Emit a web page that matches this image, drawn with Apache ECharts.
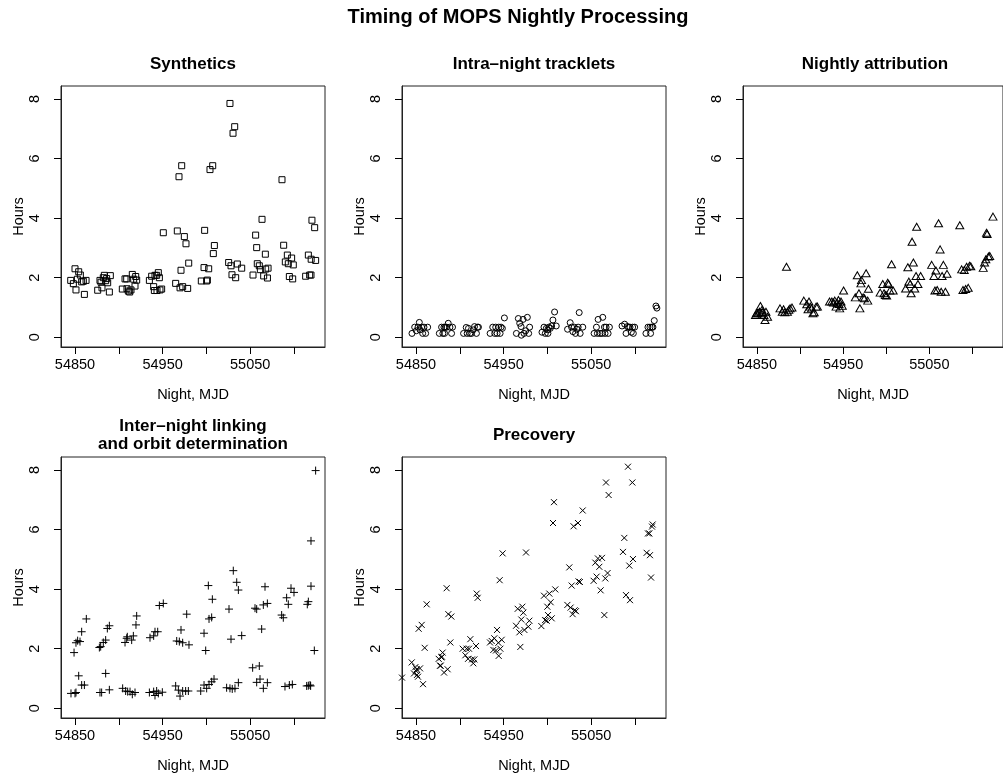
<!DOCTYPE html>
<html><head><meta charset="utf-8">
<script src="https://cdn.jsdelivr.net/npm/echarts@6/dist/echarts.min.js"></script>
<style>html,body{margin:0;padding:0;background:#fff}#c{width:1003px;height:774px}</style>
</head><body><div id="c"></div>
<script>
// ---------- data ----------
const mainTitle = "Timing of MOPS Nightly Processing";
const panelTitles = ["Synthetics", "Intra–night tracklets", "Nightly attribution", "Inter–night linking\nand orbit determination", "Precovery"];
const xAxisTitle = "Night, MJD";
const yAxisTitle = "Hours";
const xTickValues = [54850, 54900, 54950, 55000, 55050, 55100];
const xTickLabels = [54850, 54950, 55050];
const yTickValues = [0, 2, 4, 6, 8];

const synthX = [54845.1,54848.1,54850.0,54851.1,54852.7,54854.2,54856.1,54857.6,54859.5,54860.7,54862.6,
 54875.9,54878.5,54879.7,54880.8,54882.3,54883.5,54885.0,54886.1,54887.3,54889.2,54890.3,
 54904.0,54907.1,54909.0,54909.3,54910.9,54912.4,54913.9,54915.4,54917.0,54918.5,54919.3,54920.4,
 54934.9,54937.5,54939.8,54940.6,54941.3,54943.2,54943.6,54945.1,54946.3,54947.0,54948.9,54950.8,
 54964.9,54966.8,54968.7,54969.9,54971.0,54971.8,54972.9,54974.8,54976.7,54978.6,54979.8,
 54994.2,54997.3,54998.0,55000.3,55001.1,55002.6,55004.1,55007.2,55007.9,55009.1,
 55025.4,55026.9,55028.1,55029.2,55030.4,55032.3,55033.4,55035.3,55040.3,
 55053.2,55056.2,55057.4,55058.1,55060.4,55061.6,55063.5,55065.4,55067.3,55067.7,55069.7,55070.4,
 55086.3,55088.2,55090.1,55092.4,55093.5,55094.7,55097.3,55098.5,55099.2,
 55113.3,55116.4,55117.9,55119.4,55119.6,55120.5,55123.6,55124.7];
const synthY = [1.91,1.80,2.30,1.59,1.95,2.20,2.09,1.86,1.88,1.44,1.91,
 1.58,1.91,1.85,1.66,2.00,2.08,1.90,1.97,1.83,1.52,2.07,
 1.62,1.96,1.96,1.63,1.55,1.52,1.59,2.11,1.95,1.72,2.04,1.92,
 1.91,2.05,1.70,1.57,2.08,2.08,1.57,2.17,2.00,1.59,1.62,3.51,
 1.81,3.57,5.39,1.66,2.25,5.76,1.70,3.38,3.14,1.64,2.49,
 1.89,2.34,3.59,1.89,1.92,2.30,5.63,5.76,2.81,3.08,
 2.51,7.85,2.40,2.10,6.85,7.07,2.00,2.46,2.32,
 2.09,3.43,3.01,2.47,2.40,2.27,3.96,2.06,2.79,2.29,1.99,2.32,
 5.29,3.09,2.53,2.76,2.47,2.04,2.66,1.96,2.43,
 2.05,2.76,2.09,2.09,2.62,3.93,3.68,2.58];

const trackX = [54845.4,54848.5,54850.4,54852.3,54853.8,54854.6,54856.4,54857.6,54859.1,54861.0,54863.3,
 54876.6,54879.2,54880.7,54881.9,54882.6,54883.4,54884.9,54886.8,54888.7,54890.6,54891.7,
 54904.3,54907.3,54908.4,54909.9,54911.5,54913.4,54915.3,54916.8,54919.0,54920.2,54921.3,
 54934.6,54937.6,54939.9,54941.0,54942.6,54944.5,54946.0,54947.1,54948.6,54950.9,
 54964.6,54966.8,54968.4,54969.9,54970.3,54972.2,54973.3,54975.2,54977.1,54978.6,54979.7,
 54993.8,54996.1,54997.6,54998.8,55000.4,55000.6,55001.7,55003.3,55004.8,55006.3,55008.2,55010.1,
 55023.0,55026.0,55027.6,55029.1,55030.6,55032.1,55033.6,55035.1,55036.3,55037.4,55040.4,
 55053.3,55056.0,55057.1,55057.9,55060.1,55062.4,55063.2,55065.1,55065.8,55067.0,55069.3,55070.8,
 55085.2,55088.2,55089.8,55091.3,55092.8,55094.3,55095.8,55097.3,55098.1,55099.6,
 55112.5,55114.8,55117.1,55117.8,55119.3,55120.5,55122.0,55123.9,55125.0];
const trackY = [0.13,0.34,0.22,0.34,0.50,0.25,0.34,0.13,0.34,0.13,0.34,
 0.13,0.34,0.13,0.34,0.13,0.34,0.34,0.47,0.34,0.13,0.34,
 0.13,0.33,0.13,0.30,0.13,0.13,0.25,0.36,0.13,0.34,0.34,
 0.13,0.34,0.13,0.34,0.13,0.34,0.13,0.34,0.30,0.65,
 0.13,0.63,0.47,0.36,0.07,0.60,0.13,0.22,0.67,0.13,0.34,
 0.17,0.34,0.13,0.30,0.25,0.13,0.34,0.30,0.38,0.58,0.85,0.38,
 0.27,0.49,0.34,0.19,0.34,0.13,0.27,0.34,0.83,0.13,0.34,
 0.13,0.34,0.13,0.60,0.13,0.13,0.67,0.34,0.13,0.34,0.13,0.34,
 0.38,0.44,0.13,0.36,0.34,0.34,0.17,0.34,0.13,0.34,
 0.13,0.34,0.34,0.13,0.34,0.34,0.56,1.05,0.98];

const attribX = [54848.5,54849.6,54851.1,54853.0,54854.2,54855.3,54856.1,54856.8,54858.3,54859.5,54860.6,54862.5,
 54876.9,54879.5,54881.0,54882.5,54884.4,54885.5,54887.1,54888.6,54890.8,
 54904.5,54907.9,54909.4,54910.5,54912.0,54913.5,54915.1,54916.6,54918.8,54920.3,
 54934.3,54937.0,54938.9,54940.4,54941.9,54943.0,54944.6,54945.3,54946.1,54947.6,54949.1,54950.6,
 54964.2,54966.5,54968.4,54969.5,54970.7,54971.4,54973.3,54974.8,54976.7,54978.6,54979.4,
 54993.0,54996.0,54997.5,54999.0,55000.5,55001.7,55002.8,55004.3,55006.2,55008.1,
 55022.5,55025.1,55026.3,55027.8,55028.9,55030.0,55031.5,55033.1,55034.6,55035.3,55036.8,55039.9,
 55052.7,55055.3,55056.5,55057.6,55059.1,55060.7,55062.5,55063.7,55064.8,55066.3,55068.6,55070.5,
 55085.3,55087.5,55089.0,55090.5,55092.1,55093.2,55095.1,55096.6,55098.1,
 55112.5,55114.0,55115.5,55116.3,55117.0,55118.5,55120.0,55123.8];
const attribY = [0.75,0.81,0.81,0.86,1.05,0.81,0.92,0.84,0.75,0.58,0.86,0.69,
 0.97,0.86,0.94,0.84,2.37,0.86,0.92,0.97,1.00,
 1.23,1.11,0.94,1.20,1.03,0.97,0.81,0.84,1.03,1.03,
 1.20,1.20,1.17,1.23,1.03,1.16,1.25,1.12,0.97,1.20,1.06,1.57,
 1.34,2.08,1.48,0.97,1.81,1.92,1.34,1.31,2.15,1.23,1.63,
 1.50,1.79,1.48,1.42,1.40,1.83,1.79,1.57,2.45,1.57,
 1.64,2.35,1.87,1.79,1.48,3.21,2.51,1.64,2.06,3.71,1.79,2.06,
 2.43,2.06,1.57,2.24,1.59,3.83,2.95,1.53,2.06,2.43,1.53,2.13,
 3.76,2.28,1.59,2.26,1.62,2.37,1.66,2.40,2.38,
 2.33,2.51,2.62,3.51,3.47,2.71,2.73,4.05];

const linkX = [54848.9,54851.1,54853.0,54855.7,54857.6,54862.9,54854.2,54857.6,54860.7,54845.4,54850.0,54851.1,
 54877.8,54879.3,54882.3,54885.0,54886.9,54889.2,54885.0,54889.2,54878.5,54880.4,
 54907.1,54909.0,54909.7,54914.7,54916.6,54919.6,54920.4,54904.4,54907.8,54910.1,54912.8,54915.4,54918.5,
 54935.6,54939.8,54941.3,54944.4,54946.3,54950.8,54934.9,54939.8,54941.3,54943.2,54945.1,54949.7,
 54966.1,54969.1,54971.0,54972.9,54977.5,54980.1,54964.9,54968.0,54969.9,54972.9,54976.3,54979.4,
 54997.3,54999.2,55002.2,55003.0,55006.0,55006.8,54993.5,54997.3,55000.3,55003.0,55006.0,55008.7,
 55025.8,55028.1,55030.7,55034.6,55036.5,55040.3,55023.1,55026.9,55029.5,55032.6,55036.5,
 55055.5,55057.4,55063.1,55065.0,55066.9,55069.6,55052.8,55060.4,55057.4,55061.2,55065.0,55069.6,
 55085.9,55087.8,55091.6,55093.5,55096.6,55100.0,55089.7,55094.7,55098.1,
 55115.2,55116.4,55119.4,55119.4,55124.7,55123.2,55114.5,55116.4,55118.3,55119.0];
const linkY = [1.87,2.20,2.27,2.24,2.57,3.00,1.09,0.78,0.78,0.50,0.50,0.53,
 2.04,2.07,2.21,2.29,2.68,2.77,1.17,0.62,0.53,0.53,
 2.21,2.35,2.40,2.29,2.43,2.80,3.10,0.67,0.58,0.56,0.56,0.47,0.53,
 2.37,2.43,2.57,2.57,3.45,3.52,0.53,0.56,0.43,0.58,0.50,0.54,
 2.26,2.24,2.63,2.20,3.16,2.13,0.75,0.61,0.41,0.58,0.58,0.58,
 2.52,1.94,4.12,3.00,3.05,3.66,0.58,0.78,0.67,0.80,0.89,0.98,
 3.33,2.32,4.62,4.23,3.97,2.44,0.69,0.67,0.65,0.67,0.86,
 3.36,3.33,2.66,3.47,4.08,3.52,1.36,1.42,0.87,0.98,0.67,0.86,
 3.13,3.04,3.71,3.49,4.03,3.89,0.73,0.78,0.80,
 3.49,3.58,4.10,5.62,7.98,1.94,0.75,0.76,0.78,0.75];

const precovX = [54834.0,
 54845.1,54847.7,54849.2,54850.8,54852.3,54853.0,54851.1,54854.6,54856.5,54858.0,54859.9,54862.2,54850.0,
 54875.9,54877.4,54878.9,54880.4,54882.0,54885.0,54886.1,54886.9,54889.2,54890.3,54878.2,54879.7,
 54903.3,54906.3,54907.8,54909.4,54910.5,54912.0,54913.9,54915.4,54916.6,54918.5,54919.3,54920.4,
 54934.5,54936.4,54938.3,54939.4,54941.3,54942.5,54944.0,54944.4,54945.5,54946.3,54947.8,54948.9,
 54964.2,54966.1,54968.0,54969.1,54970.2,54971.4,54972.5,54973.7,54975.6,54978.2,54979.4,
 54993.1,54996.1,54997.3,54999.2,54999.9,55000.7,55002.2,55003.7,55004.9,55006.4,55007.5,55009.0,
 55022.8,55025.0,55026.5,55027.7,55028.8,55029.9,55031.1,55032.6,55034.9,55035.6,55037.1,55040.3,
 55052.8,55054.7,55056.2,55057.7,55059.3,55060.8,55062.3,55065.0,55066.9,55066.1,55068.7,55069.9,
 55086.3,55087.8,55089.7,55092.0,55093.5,55094.3,55097.0,55097.7,
 55113.3,55114.8,55116.4,55117.1,55118.3,55119.4,55120.2];
const precovY = [1.03,
 1.54,1.17,1.38,1.31,1.06,2.67,1.12,1.34,2.80,0.81,2.03,3.49,1.26,
 1.66,1.43,1.71,1.87,1.20,4.03,1.31,3.16,2.21,3.08,1.43,1.73,
 2.00,1.78,2.00,1.66,2.00,2.32,1.64,1.51,1.64,2.09,3.85,3.71,
 2.21,2.26,1.96,2.35,1.94,2.63,2.20,1.76,4.30,2.00,2.30,5.20,
 2.77,3.34,2.55,2.06,2.98,3.41,3.21,2.63,5.23,2.74,2.94,
 2.76,3.78,2.96,2.94,3.41,3.13,3.85,3.56,3.02,6.22,6.92,3.99,
 3.47,4.73,3.38,4.12,3.16,6.11,3.29,3.26,6.22,4.26,4.24,6.64,
 4.28,4.89,4.42,5.03,4.75,3.96,5.05,3.13,7.58,4.36,4.54,7.16,
 5.25,5.72,3.80,8.11,4.79,3.63,7.58,5.01,
 5.22,5.87,5.87,5.14,4.39,6.10,6.17];

// ---------- chart ----------
const FONT = '"Liberation Sans", Arial, Helvetica, sans-serif';
const panelXs = [synthX, trackX, attribX, linkX, precovX];
const panelYs = [synthY, trackY, attribY, linkY, precovY];
const symbols = [
  {symbol: 'rect', size: 6},
  {symbol: 'circle', size: 6},
  {symbol: 'triangle', size: [8, 7]},
  {symbol: 'path://M0,4L8,4M4,0L4,8', size: 8},
  {symbol: 'path://M0,0L6,6M0,6L6,0', size: 6}
];
const W = 264, H = 261;
const lefts = [61, 402, 743, 61, 402];
const tops = [86, 86, 86, 457, 457];
const X_MIN = 54834.0, X_MAX = 55135.4, Y_MIN = -0.326, Y_MAX = 8.436;

const grids = [], xAxes = [], yAxes = [], series = [], graphics = [];
graphics.push({type: 'text', x: 518, y: 17, style: {text: mainTitle, font: 'bold 20px ' + FONT, fill: '#000', textAlign: 'center', textVerticalAlign: 'middle'}});
for (let i = 0; i < 5; i++) {
  grids.push({left: lefts[i], top: tops[i], width: W, height: H, show: true, borderColor: '#222', borderWidth: 1, backgroundColor: 'transparent', containLabel: false});
  xAxes.push({
    type: 'value', gridIndex: i, min: X_MIN, max: X_MAX,
    axisLine: {show: true, onZero: false, lineStyle: {color: '#222', width: 1}},
    splitLine: {show: false},
    axisTick: {show: true, length: 7, lineStyle: {color: '#000', width: 1}, customValues: xTickValues},
    axisLabel: {show: true, customValues: xTickLabels, formatter: v => String(v), margin: 10, color: '#000', fontSize: 14.5, fontFamily: FONT},
    name: xAxisTitle, nameLocation: 'middle', nameGap: 40,
    nameTextStyle: {color: '#000', fontSize: 14.5, fontFamily: FONT}
  });
  yAxes.push({
    type: 'value', gridIndex: i, min: Y_MIN, max: Y_MAX,
    axisLine: {show: true, onZero: false, lineStyle: {color: '#222', width: 1}},
    splitLine: {show: false},
    axisTick: {show: true, length: 7, lineStyle: {color: '#000', width: 1}, customValues: yTickValues},
    axisLabel: {show: true, customValues: yTickValues, formatter: v => String(v), rotate: 90, margin: 19, color: '#000', fontSize: 14.5, fontFamily: FONT},
    name: yAxisTitle, nameLocation: 'middle', nameGap: 35, nameRotate: 90,
    nameTextStyle: {color: '#000', fontSize: 14.5, fontFamily: FONT}
  });
  const data = panelXs[i].map((x, k) => [x, panelYs[i][k]]);
  series.push({
    type: 'scatter', xAxisIndex: i, yAxisIndex: i, data: data,
    symbol: symbols[i].symbol, symbolSize: symbols[i].size, clip: true,
    itemStyle: {color: 'transparent', borderColor: '#000', borderWidth: 1, opacity: 1},
    silent: true, emphasis: {disabled: true}, animation: false
  });
  graphics.push({type: 'text', x: lefts[i] + W / 2, y: tops[i] - 21.5,
    style: {text: panelTitles[i], font: 'bold 17px ' + FONT, fill: '#000', textAlign: 'center', textVerticalAlign: 'middle', lineHeight: 18}});
}

const chart = echarts.init(document.getElementById('c'), null, {renderer: 'canvas'});
chart.setOption({
  backgroundColor: '#fff', animation: false,
  grid: grids, xAxis: xAxes, yAxis: yAxes, series: series, graphic: graphics
});
</script></body></html>
